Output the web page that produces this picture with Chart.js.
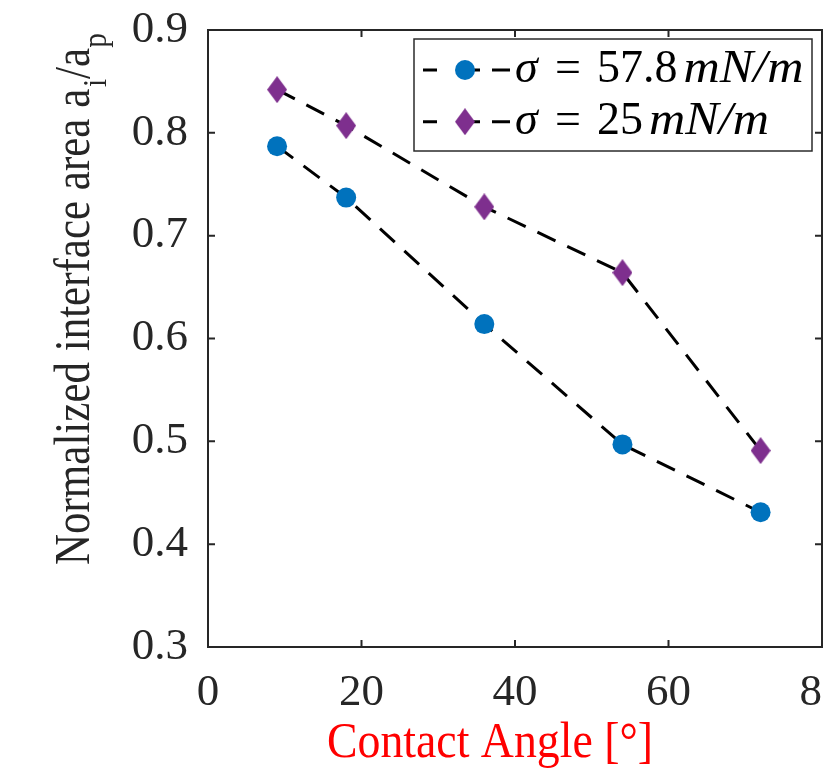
<!DOCTYPE html>
<html><head><meta charset="utf-8">
<script src="https://cdn.jsdelivr.net/npm/chart.js@4.4.0/dist/chart.umd.min.js"></script>
<style>
html,body{margin:0;padding:0;background:#fff;overflow:hidden;width:823px;height:770px}
#wrap{position:relative;width:900px;height:770px}
canvas{display:block}
</style></head><body>
<div id="wrap"><canvas id="c" width="900" height="770"></canvas></div>
<script>
// ---- data ----
const contactAngle = [9, 18, 36, 54, 72];
const area578 = [0.787, 0.737, 0.614, 0.497, 0.431];
const area25 = [0.842, 0.807, 0.728, 0.664, 0.491];
const xTicks = [0, 20, 40, 60, 80];
const xTickLabels = ['0', '20', '40', '60', '80'];
const yTicks = [0.3, 0.4, 0.5, 0.6, 0.7, 0.8, 0.9];
const yTickLabels = ['0.3', '0.4', '0.5', '0.6', '0.7', '0.8', '0.9'];
const seriesNumbers = ['57.8', '25'];
const xTitle = 'Contact Angle [°]';
const yTitle = 'Normalized interface area a';

const BLUE = '#0072BD', PURPLE = '#7E2F8E', AX = '#262626';
const SERIF = '"Liberation Serif", "Times New Roman", serif';

function diamond(w, h, color) {
  const c = document.createElement('canvas');
  c.width = w; c.height = h;
  const g = c.getContext('2d');
  g.fillStyle = color;
  g.beginPath();
  g.moveTo(w / 2, 0); g.lineTo(w, h / 2); g.lineTo(w / 2, h); g.lineTo(0, h / 2);
  g.closePath(); g.fill();
  return c;
}
const diamondImg = diamond(20, 27, PURPLE);

const frame = {
  id: 'frame',
  beforeDatasetsDraw(chart) {
    const { ctx, chartArea: a, scales: { x, y } } = chart;
    ctx.save();
    ctx.strokeStyle = AX; ctx.lineWidth = 2;
    ctx.strokeRect(a.left, a.top, a.right - a.left, a.bottom - a.top);
    ctx.beginPath();
    xTicks.forEach(v => {
      const p = x.getPixelForValue(v);
      ctx.moveTo(p, a.bottom); ctx.lineTo(p, a.bottom - 7);
      ctx.moveTo(p, a.top); ctx.lineTo(p, a.top + 7);
    });
    yTicks.forEach(v => {
      const p = y.getPixelForValue(v);
      ctx.moveTo(a.left, p); ctx.lineTo(a.left + 7, p);
      ctx.moveTo(a.right, p); ctx.lineTo(a.right - 7, p);
    });
    ctx.stroke();
    ctx.restore();
  }
};

const titles = {
  id: 'titles',
  afterDraw(chart) {
    const ctx = chart.ctx;
    // x title
    ctx.save();
    ctx.fillStyle = '#ff0000';
    ctx.font = '50px ' + SERIF;
    ctx.textBaseline = 'alphabetic';
    let w = ctx.measureText(xTitle).width;
    ctx.translate(327, 757);
    ctx.scale(326 / w, 1);
    ctx.fillText(xTitle, 0, 0);
    ctx.restore();
    // y title (rotated)
    ctx.save();
    ctx.fillStyle = AX;
    ctx.translate(89, 565);
    ctx.rotate(-Math.PI / 2);
    const sx = 0.86;
    ctx.scale(sx, 1);
    ctx.font = '50px ' + SERIF;
    ctx.textBaseline = 'alphabetic';
    let cx = 0;
    ctx.fillText(yTitle, cx, 0); cx += ctx.measureText(yTitle).width;
    ctx.font = '34px ' + SERIF;
    ctx.fillText('i', cx + 2, 17); cx += ctx.measureText('i').width + 2;
    ctx.font = '50px ' + SERIF;
    ctx.fillText('/a', cx, 0); cx += ctx.measureText('/a').width;
    ctx.font = '34px ' + SERIF;
    ctx.fillText('p', cx, 17);
    ctx.restore();
  }
};

const legendPlugin = {
  id: 'mlegend',
  afterDraw(chart) {
    const ctx = chart.ctx;
    ctx.save();
    ctx.fillStyle = '#fff';
    ctx.fillRect(414, 39, 398, 112);
    ctx.strokeStyle = '#2b2b2b'; ctx.lineWidth = 1.5;
    ctx.strokeRect(414, 39, 398, 112);
    const rows = [70, 121.7];
    chart.data.datasets.forEach((ds, i) => {
      const yy = rows[i];
      ctx.strokeStyle = '#000'; ctx.lineWidth = 3;
      ctx.beginPath();
      ctx.moveTo(423, yy); ctx.lineTo(437, yy);
      ctx.moveTo(470, yy); ctx.lineTo(480, yy);
      ctx.moveTo(492, yy); ctx.lineTo(510, yy);
      ctx.stroke();
      if (i === 0) {
        ctx.fillStyle = BLUE; ctx.beginPath(); ctx.arc(465, yy, 10, 0, Math.PI * 2); ctx.fill();
      } else {
        ctx.drawImage(diamondImg, 465 - diamondImg.width / 2, yy - diamondImg.height / 2);
      }
      ctx.fillStyle = '#000';
      ctx.textBaseline = 'alphabetic';
      const base = yy + 12;
      ctx.font = 'italic 46px ' + SERIF;
      ctx.fillText('σ', 515, base);
      ctx.font = '46px ' + SERIF;
      ctx.fillText('=', 555, base);
      ctx.fillText(seriesNumbers[i], 597, base);
      const nw = ctx.measureText(seriesNumbers[i]).width;
      ctx.font = 'italic 46px ' + SERIF;
      const unit = 'mN/m';
      const uw = ctx.measureText(unit).width;
      ctx.save();
      ctx.translate(597 + nw + 6, base);
      ctx.scale(120 / uw, 1);
      ctx.fillText(unit, 0, 0);
      ctx.restore();
    });
    ctx.restore();
  }
};

new Chart(document.getElementById('c'), {
  type: 'line',
  data: {
    datasets: [
      {
        label: 'σ = 57.8 mN/m',
        data: contactAngle.map((v, i) => ({ x: v, y: area578[i] })),
        borderColor: '#000', borderWidth: 3, borderDash: [20, 13],
        pointStyle: 'circle', pointRadius: 10, pointBackgroundColor: BLUE,
        pointBorderWidth: 0, pointHoverRadius: 10, fill: false, tension: 0
      },
      {
        label: 'σ = 25 mN/m',
        data: contactAngle.map((v, i) => ({ x: v, y: area25[i] })),
        borderColor: '#000', borderWidth: 3, borderDash: [20, 13],
        pointStyle: diamondImg, pointRadius: 10, pointBackgroundColor: PURPLE,
        pointBorderWidth: 0, fill: false, tension: 0
      }
    ]
  },
  options: {
    responsive: false, animation: false,
    layout: { padding: { top: 30, right: 78, left: 0, bottom: 0 } },
    plugins: { legend: { display: false }, tooltip: { enabled: false } },
    scales: {
      x: {
        type: 'linear', min: 0, max: 80,
        afterBuildTicks: s => { s.ticks = xTicks.map(v => ({ value: v })); },
        afterFit: s => { s.height = 123; s.paddingLeft = 0; s.paddingRight = 0; },
        grid: { display: false, drawTicks: false },
        border: { display: false },
        ticks: {
          color: AX, padding: 19, maxRotation: 0, autoSkip: false,
          font: { family: SERIF, size: 45 },
          callback: (v) => xTickLabels[xTicks.indexOf(v)]
        }
      },
      y: {
        type: 'linear', min: 0.3, max: 0.9,
        afterBuildTicks: s => { s.ticks = yTicks.map(v => ({ value: v })); },
        afterFit: s => { s.width = 208; s.paddingTop = 0; s.paddingBottom = 0; },
        grid: { display: false, drawTicks: false },
        border: { display: false },
        ticks: {
          color: AX, padding: 20, autoSkip: false,
          font: { family: SERIF, size: 45 },
          callback: (v) => { const i = yTicks.findIndex(t => Math.abs(t - v) < 1e-9); return yTickLabels[i]; }
        }
      }
    }
  },
  plugins: [frame, titles, legendPlugin]
});
</script>
</body></html>
